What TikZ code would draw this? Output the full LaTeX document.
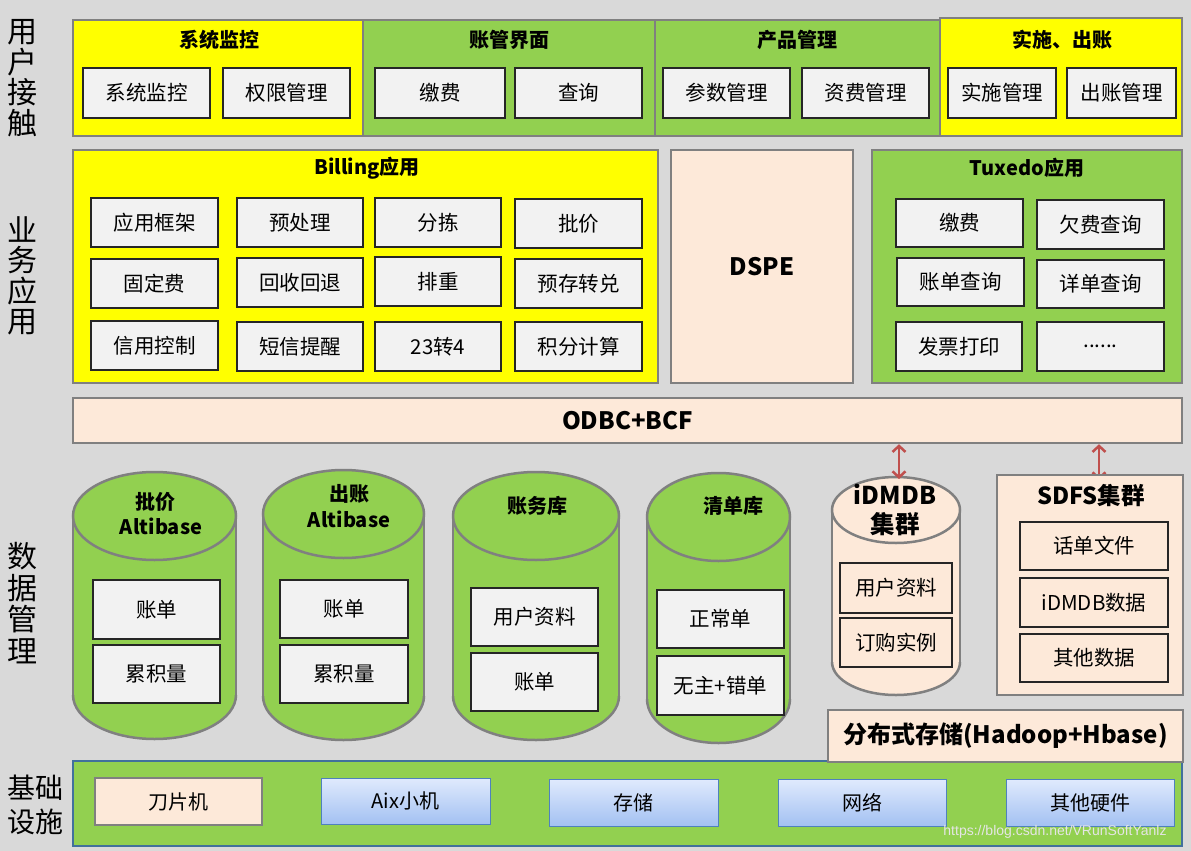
\documentclass[tikz,border=0pt]{standalone}
\usepackage{fontspec}
\setmainfont{Noto Sans CJK SC}
\newfontfamily\wmfont{Liberation Sans}
\usetikzlibrary{arrows.meta}
\definecolor{bg}{HTML}{D9D9D9}
\definecolor{yel}{HTML}{FFFF00}
\definecolor{grn}{HTML}{92D050}
\definecolor{peach}{HTML}{FDE9D9}
\definecolor{boxg}{HTML}{F2F2F2}
\definecolor{pgray}{HTML}{808080}
\definecolor{arrred}{HTML}{C0504D}
\definecolor{blueb}{HTML}{4F81BD}
\definecolor{bluetop}{HTML}{E0EAFD}
\definecolor{bluebot}{HTML}{A3C1F2}
\definecolor{infra}{HTML}{41719C}
\definecolor{subline}{HTML}{262626}
\newcommand\myfs[1]{\fontsize{#1}{#1}\selectfont}
\newcommand\bx[7]{\node[#6, minimum width={(#4-#2)*1pt}, minimum height={(#5-#3)*1pt}] (#1) at ({(#2+#4)/2},{(#3+#5)/2}) {#7};}
\newcommand\mycyl[6]{%
 \pgfmathsetmacro\mycx{(#1+#2)/2}\pgfmathsetmacro\myrx{(#2-#1)/2}%
 \pgfmathsetmacro\myct{#3+#5}\pgfmathsetmacro\mycb{#4-#5}%
 \fill[#6] (\mycx,\mycb) ellipse [x radius=\myrx, y radius=#5];
 \fill[#6] (#1,\myct) rectangle (#2,\mycb);
 \begin{scope}\clip (#1-5,\mycb) rectangle (#2+5,#4+5);
 \draw[cylline] (\mycx,\mycb) ellipse [x radius=\myrx, y radius=#5];\end{scope}
 \draw[cylline] (#1,\myct) -- (#1,\mycb) (#2,\myct) -- (#2,\mycb);
 \filldraw[#6, cylline] (\mycx,\myct) ellipse [x radius=\myrx, y radius=#5];
}
\begin{document}
\begin{tikzpicture}[x=1pt,y=-1pt,
  panel/.style={draw=pgray, line width=2.5pt, inner sep=0pt},
  sub/.style={draw=subline, fill=boxg, line width=1.5pt, inner sep=0pt, font=\myfs{20.5}},
  psub/.style={sub, fill=peach},
  ttl/.style={inner sep=0pt, font=\myfs{20}\bfseries},
  side/.style={inner sep=0pt, align=center, font=\fontsize{30}{30.5}\selectfont},
  cylline/.style={draw=pgray, line width=2.5pt},
  hw/.style={draw=blueb, line width=1pt, top color=bluetop, bottom color=bluebot, inner sep=0pt, font=\myfs{20}},
  redarr/.style={draw=arrred, line width=2.5pt, {Straight Barb[length=6pt,width=13pt,line width=2.5pt]}-{Straight Barb[length=6pt,width=13pt,line width=2.5pt]}}
]
\useasboundingbox (0,0) rectangle (1191,851);
\fill[bg] (0,0) rectangle (1191,851);

% side labels
\node[side] (L1) at (23,78) {用\\户\\接\\触};
\node[side] (L2) at (23,276) {业\\务\\应\\用};
\node[side, font=\fontsize{30}{31.5}\selectfont] (L3) at (23,603) {数\\据\\管\\理};
\node[side, font=\fontsize{28}{34}\selectfont] (L4) at (35,805) {基础\\设施};

% top row
\bx{p1}{73}{20}{363}{136}{panel,fill=yel}{}
\bx{p2}{363}{20}{655}{136}{panel,fill=grn}{}
\bx{p3}{655}{20}{940}{136}{panel,fill=grn}{}
\bx{p4}{940}{18}{1182}{136}{panel,fill=yel}{}
\node[ttl] (t1) at (219,40) {系统监控};
\node[ttl] (t2) at (509,40) {账管界面};
\node[ttl] (t3) at (797,40) {产品管理};
\node[ttl] (t4) at (1062,40) {实施、出账};
\bx{s11}{83}{68}{210}{118}{sub}{系统监控}
\bx{s12}{223}{68}{350}{118}{sub}{权限管理}
\bx{s21}{375}{68}{505}{118}{sub}{缴费}
\bx{s22}{515}{68}{642}{118}{sub}{查询}
\bx{s31}{663}{68}{790}{118}{sub}{参数管理}
\bx{s32}{802}{68}{929}{118}{sub}{资费管理}
\bx{s41}{948}{68}{1056}{118}{sub}{实施管理}
\bx{s42}{1067}{68}{1176}{118}{sub}{出账管理}

% business row
\bx{bill}{73}{150}{658}{383}{panel,fill=yel}{}
\node[ttl] (billt) at (367,168) {Billing应用};
\bx{b11}{91}{198}{218}{247}{sub}{应用框架}
\bx{b12}{237}{198}{363}{247}{sub}{预处理}
\bx{b13}{375}{198}{501}{247}{sub}{分拣}
\bx{b14}{515}{199}{642}{248}{sub}{批价}
\bx{b21}{91}{259}{218}{308}{sub}{固定费}
\bx{b22}{237}{258}{363}{307}{sub}{回收回退}
\bx{b23}{375}{257}{501}{306}{sub}{排重}
\bx{b24}{515}{259}{642}{308}{sub}{预存转兑}
\bx{b31}{91}{321}{218}{370}{sub}{信用控制}
\bx{b32}{237}{322}{363}{371}{sub}{短信提醒}
\bx{b33}{375}{322}{501}{371}{sub}{23转4}
\bx{b34}{515}{322}{642}{371}{sub}{积分计算}
\bx{dspe}{671}{150}{853}{383}{panel,fill=peach,font=\myfs{24}\bfseries}{DSPE}
\bx{tux}{872}{150}{1182}{383}{panel,fill=grn}{}
\node[ttl] (tuxt) at (1027,168) {Tuxedo应用};
\bx{x11}{896}{199}{1023}{247}{sub}{缴费}
\bx{x12}{1037}{200}{1164}{249}{sub}{欠费查询}
\bx{x21}{897}{258}{1024}{306}{sub}{账单查询}
\bx{x22}{1037}{260}{1164}{308}{sub}{详单查询}
\bx{x31}{896}{322}{1022}{371}{sub}{发票打印}
\bx{x32}{1037}{322}{1164}{371}{sub}{......}

% ODBC bar
\bx{odbc}{73}{398}{1182}{443}{panel,fill=peach,font=\myfs{24}\bfseries}{ODBC+BCF}

% data row
\mycyl{73}{236}{472}{739}{44}{grn}
\node[ttl] (c1a) at (155,502) {批价};
\node[ttl] (c1b) at (161,526) {Altibase};
\bx{d11}{93}{580}{220}{639}{sub}{账单}
\bx{d12}{93}{645}{220}{703}{sub}{累积量}

\mycyl{263}{424}{470}{740}{44}{grn}
\node[ttl] (c2a) at (349,494) {出账};
\node[ttl] (c2b) at (349,519) {Altibase};
\bx{d21}{280}{580}{408}{638}{sub}{账单}
\bx{d22}{280}{645}{408}{703}{sub}{累积量}

\mycyl{453}{619}{472}{740}{44}{grn}
\node[ttl] (c3a) at (537,506) {账务库};
\bx{d31}{471}{588}{598}{646}{sub}{用户资料}
\bx{d32}{471}{653}{598}{711}{sub}{账单}

\mycyl{647}{790}{473}{743}{44}{grn}
\node[ttl] (c4a) at (733,506) {清单库};
\bx{d41}{657}{590}{784}{648}{sub}{正常单}
\bx{d42}{657}{656}{784}{715}{sub}{无主+错单}

\mycyl{832}{960}{477}{695}{33}{peach}
\node[ttl,font=\myfs{24.5}\bfseries] (c5a) at (895,494) {iDMDB};
\node[ttl,font=\myfs{24.5}\bfseries] (c5b) at (895,524) {集群};
\bx{d51}{840}{563}{952}{613}{psub}{用户资料}
\bx{d52}{840}{618}{952}{667}{psub}{订购实例}

\coordinate (a2b) at (1099,480);
\draw[redarr] (odbc.south -| a2b) -- (a2b);

\bx{sdfs}{997}{475}{1183}{695}{panel,fill=peach}{}
\node[ttl,font=\myfs{23.5}\bfseries] (sdfst) at (1091,495) {SDFS集群};
\bx{e1}{1020}{522}{1168}{570}{psub}{话单文件}
\bx{e2}{1020}{578}{1168}{627}{psub}{iDMDB数据}
\bx{e3}{1020}{634}{1168}{682}{psub}{其他数据}

% infrastructure
\bx{infra}{73}{761}{1182}{846}{draw=infra,line width=2.5pt,fill=grn,inner sep=0pt}{}
\bx{hadoop}{828}{710}{1183}{762}{panel,fill=peach,font=\myfs{24}\bfseries}{分布式存储(Hadoop+Hbase)}
\bx{h1}{95}{778}{262}{825}{panel,fill=peach,font=\myfs{20}}{刀片机}
\bx{h2}{321}{778}{490}{824}{hw}{Aix小机}
\bx{h3}{549}{779}{718}{826}{hw}{存储}
\bx{h4}{778}{779}{946}{826}{hw}{网络}
\bx{h5}{1006}{779}{1174}{826}{hw}{其他硬件}
\node[inner sep=0pt, text=white!80!gray, font=\wmfont\myfs{14}] (wm) at (1055,832) {https://blog.csdn.net/VRunSoftYanlz};

% arrow to iDMDB
\coordinate (a1b) at (899,479);
\draw[redarr] (odbc.south -| a1b) -- (a1b);
\end{tikzpicture}
\end{document}
